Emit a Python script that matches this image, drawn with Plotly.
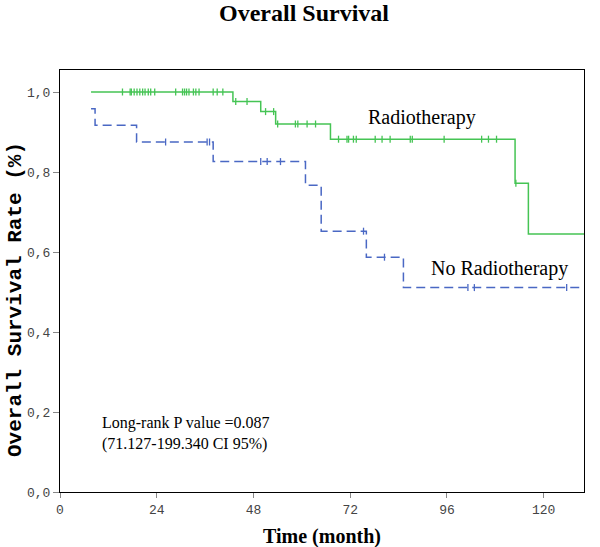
import numpy as np
import plotly.graph_objects as go

# ---- data ----
rt_time = [7.7, 42.9, 49.8, 53.5, 67.1, 112.9, 116.2, 130.0]
rt_surv = [1.0, 0.976, 0.951, 0.920, 0.882, 0.772, 0.645, 0.645]
rt_censor = [15.5, 17.4, 17.7, 18.4, 19.1, 19.8, 20.5, 21.1, 21.9, 22.5, 23.5,
             28.7, 30.4, 30.9, 31.4, 32.0, 33.1, 33.7, 34.5, 38.0, 39.0, 40.4,
             43.6, 46.4, 51.0, 53.0, 54.0, 58.4, 59.0, 61.3, 63.4,
             69.1, 71.2, 71.6, 72.8, 73.5, 78.2, 79.9, 81.9, 86.9, 87.4, 95.3,
             104.6, 106.3, 108.3, 113.1]

nort_time = [7.7, 8.7, 19.0, 38.0, 60.9, 64.8, 76.0, 85.2, 130.0]
nort_surv = [0.958, 0.917, 0.875, 0.826, 0.767, 0.652, 0.587, 0.511, 0.511]
nort_censor = [26.2, 36.5, 37.1, 49.8, 51.4, 54.7, 75.3, 80.5, 101.2, 102.8, 125.7]

x_ticks = [0, 24, 48, 72, 96, 120]
y_ticks = [0.0, 0.2, 0.4, 0.6, 0.8, 1.0]
y_ticktext = ["0,0", "0,2", "0,4", "0,6", "0,8", "1,0"]

GREEN = "#45c454"
BLUE = "#4a68c4"


def step_value(times, surv, t):
    idx = np.searchsorted(np.array(times), np.array(t), side="right") - 1
    idx = np.clip(idx, 0, len(surv) - 1)
    return np.array(surv)[idx]


fig = go.Figure()

fig.add_trace(go.Scatter(x=rt_time, y=rt_surv, mode="lines",
                         line=dict(color=GREEN, width=1.5, shape="hv"),
                         showlegend=False, hoverinfo="skip"))
fig.add_trace(go.Scatter(x=rt_censor, y=step_value(rt_time, rt_surv, rt_censor),
                         mode="markers",
                         marker=dict(symbol="line-ns", size=5,
                                     line=dict(color=GREEN, width=1.3)),
                         showlegend=False))

fig.add_trace(go.Scatter(x=nort_time, y=nort_surv, mode="lines",
                         line=dict(color=BLUE, width=1.5, shape="hv", dash="9px,5px"),
                         showlegend=False, hoverinfo="skip"))
fig.add_trace(go.Scatter(x=nort_censor, y=step_value(nort_time, nort_surv, nort_censor),
                         mode="markers",
                         marker=dict(symbol="line-ns", size=5,
                                     line=dict(color=BLUE, width=1.3)),
                         showlegend=False))

tick_font = dict(family="Liberation Mono", size=13, color="#444444")

PL, PR, PT, PB = 60, 584, 70, 492
PW, PH = PR - PL, PB - PT


def px_x(x):
    return (x - PL) / PW


def px_y(y):
    return (PB - y) / PH


fig.update_layout(
    width=600, height=547,
    margin=dict(l=PL, r=600 - PR, t=PT, b=547 - PB),
    paper_bgcolor="white", plot_bgcolor="white",
    xaxis=dict(range=[0, 130], tickvals=x_ticks, ticks="outside", ticklen=5,
               tickcolor="#888888", showline=True, linecolor="black", linewidth=1,
               mirror=True, showgrid=False, zeroline=False, tickfont=tick_font),
    yaxis=dict(range=[0, 1.055], tickvals=y_ticks, ticktext=y_ticktext,
               ticks="outside", ticklen=6, tickcolor="#888888", showline=True,
               linecolor="black", linewidth=1, mirror=True, showgrid=False,
               zeroline=False, tickfont=tick_font),
    annotations=[
        dict(text="<b>Overall Survival</b>", xref="paper", yref="paper",
             x=px_x(304), y=px_y(13), xanchor="center", yanchor="middle",
             showarrow=False,
             font=dict(family="Liberation Serif", size=24, color="black")),
        dict(text="<b>Time (month)</b>", xref="paper", yref="paper",
             x=px_x(322), y=px_y(536), xanchor="center", yanchor="middle",
             showarrow=False,
             font=dict(family="Liberation Serif", size=20, color="black")),
        dict(text="<b>Overall Survival Rate (%)</b>", xref="paper", yref="paper",
             x=px_x(15), y=px_y(300), xanchor="center", yanchor="middle",
             showarrow=False, textangle=-90,
             font=dict(family="Liberation Mono", size=21, color="black")),
        dict(text="Radiotherapy", xref="paper", yref="paper",
             x=px_x(422), y=px_y(117), xanchor="center", yanchor="middle",
             showarrow=False,
             font=dict(family="Liberation Serif", size=20, color="black")),
        dict(text="No Radiotherapy", xref="paper", yref="paper",
             x=px_x(499), y=px_y(268), xanchor="center", yanchor="middle",
             showarrow=False,
             font=dict(family="Liberation Serif", size=20, color="black")),
        dict(text="Long-rank P value =0.087<br>(71.127-199.340 CI 95%)",
             xref="paper", yref="paper",
             x=px_x(100), y=px_y(433), xanchor="left", yanchor="middle",
             align="left", showarrow=False,
             font=dict(family="Liberation Serif", size=16, color="black")),
    ],
)

fig.write_html("out.html", config={"displayModeBar": False},
               post_script="document.body.style.margin='0';document.body.style.overflow='hidden';")
